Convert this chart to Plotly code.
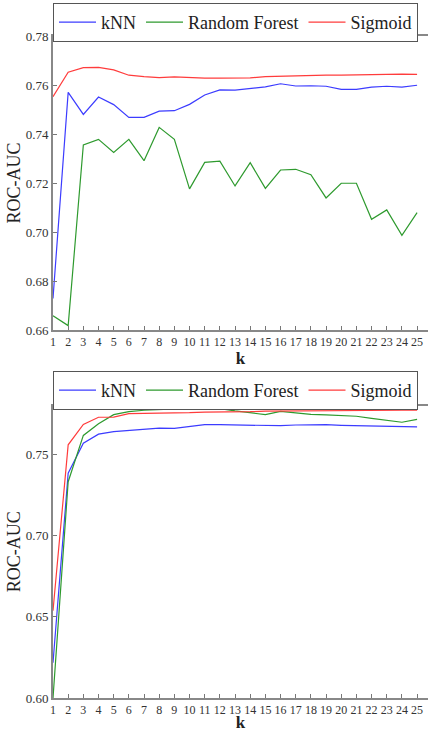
import plotly.graph_objects as go

k = list(range(1, 26))

# Top panel
top_knn = [0.6729, 0.7570, 0.7480, 0.7551, 0.7520, 0.7468, 0.7468, 0.7493, 0.7495, 0.7521,
           0.7559, 0.7580, 0.7579, 0.7587, 0.7592, 0.7605, 0.7596, 0.7597, 0.7595, 0.7582,
           0.7582, 0.7591, 0.7595, 0.7591, 0.7599]
top_rf = [0.6658, 0.6618, 0.7355, 0.7378, 0.7325, 0.7378, 0.7291, 0.7427, 0.7378, 0.7176,
          0.7284, 0.7289, 0.7188, 0.7283, 0.7178, 0.7253, 0.7256, 0.7234, 0.7139, 0.7199,
          0.7199, 0.7052, 0.7090, 0.6986, 0.7079]
top_sig = [0.7552, 0.7652, 0.7671, 0.7672, 0.7662, 0.7640, 0.7634, 0.7630, 0.7633, 0.7630,
           0.7628, 0.7628, 0.7627, 0.7629, 0.7634, 0.7636, 0.7636, 0.7640, 0.7640, 0.7640,
           0.7641, 0.7643, 0.7645, 0.7644, 0.7643]

# Bottom panel
bot_knn = [0.6217, 0.7384, 0.7569, 0.7625, 0.7640, 0.7648, 0.7652, 0.7662, 0.7660, 0.7673,
           0.7683, 0.7683, 0.7682, 0.7680, 0.7677, 0.7677, 0.7681, 0.7683, 0.7683, 0.7679,
           0.7677, 0.7675, 0.7673, 0.7671, 0.7669]
bot_rf = [0.6000, 0.7332, 0.7617, 0.7689, 0.7745, 0.7763, 0.7772, 0.7776, 0.7782, 0.7784,
          0.7784, 0.7782, 0.7768, 0.7755, 0.7745, 0.7765, 0.7755, 0.7747, 0.7743, 0.7741,
          0.7735, 0.7722, 0.7710, 0.7698, 0.7716]
bot_sig = [0.6537, 0.7559, 0.7685, 0.7729, 0.7730, 0.7751, 0.7753, 0.7753, 0.7755, 0.7757,
           0.7761, 0.7761, 0.7761, 0.7763, 0.7766, 0.7767, 0.7768, 0.7770, 0.7770, 0.7770,
           0.7771, 0.7771, 0.7771, 0.7772, 0.7772]

top_yticks = [0.66, 0.68, 0.70, 0.72, 0.74, 0.76, 0.78]
top_ylabels = ["0.66", "0.68", "0.70", "0.72", "0.74", "0.76", "0.78"]
bot_yticks = [0.60, 0.65, 0.70, 0.75]
bot_ylabels = ["0.60", "0.65", "0.70", "0.75"]

names = ["kNN", "Random Forest", "Sigmoid"]
colors = ["#3c3cff", "#2e9a2e", "#ff3c3c"]

FONT = "Liberation Serif"

fig = go.Figure()
for name, col, ys in zip(names, colors, [top_knn, top_rf, top_sig]):
    fig.add_trace(go.Scatter(x=k, y=ys, mode="lines", name=name,
                             line=dict(color=col, width=1.2),
                             xaxis="x", yaxis="y", legend="legend"))
for name, col, ys in zip(names, colors, [bot_knn, bot_rf, bot_sig]):
    fig.add_trace(go.Scatter(x=k, y=ys, mode="lines", name=name,
                             line=dict(color=col, width=1.2),
                             xaxis="x2", yaxis="y2", legend="legend2"))

H = 732
mt, mb = 36, 34
ph = H - mt - mb

def xax(anchor):
    return dict(range=[1, 25.72], tickmode="array", tickvals=k,
                ticktext=[str(v) for v in k], ticks="inside", ticklen=4,
                tickcolor="#777", tickwidth=1, showline=True, linecolor="#888",
                linewidth=2, mirror="ticks", showgrid=False, zeroline=False,
                anchor=anchor, automargin=False,
                tickfont=dict(family=FONT, size=12, color="#333"),
                title=dict(text="<b>k</b>", font=dict(family=FONT, size=17, color="#222"),
                           standoff=2))

def yax(anchor, rng, tv, tt, dom):
    return dict(range=rng, tickmode="array", tickvals=tv, ticktext=tt,
                ticks="inside", ticklen=4, tickcolor="#777", showline=True,
                linecolor="#888", linewidth=2, showgrid=False, zeroline=False,
                anchor=anchor, domain=dom, automargin=False,
                tickfont=dict(family=FONT, size=13, color="#333"),
                title=dict(text="ROC-AUC", font=dict(family=FONT, size=18, color="#222"),
                           standoff=0))

top_dom = [(H - mb - 330) / ph, 1.0]
bot_dom = [0.0, (H - mb - 405.7) / ph]

leg_common = dict(orientation="h", x=0, xanchor="left", yanchor="top",
                  bordercolor="#555", borderwidth=1, bgcolor="white",
                  font=dict(family=FONT, size=18, color="#222"),
                  itemwidth=37)

fig.update_layout(
    width=428, height=H,
    margin=dict(l=53, r=0, t=mt, b=mb),
    paper_bgcolor="white", plot_bgcolor="white",
    xaxis=xax("y"), yaxis=yax("x", [0.66, 0.78], top_yticks, top_ylabels, top_dom),
    xaxis2=xax("y2"), yaxis2=yax("x2", [0.60, 0.78], bot_yticks, bot_ylabels, bot_dom),
    legend=dict(y=1 + (mt - 3) / ph, **leg_common),
    legend2=dict(y=(H - mb - 371) / ph, **leg_common),
    showlegend=True,
)

fig.write_html("out.html", config={"displayModeBar": False},
               post_script="document.body.style.margin='0';document.body.style.overflow='hidden';")
